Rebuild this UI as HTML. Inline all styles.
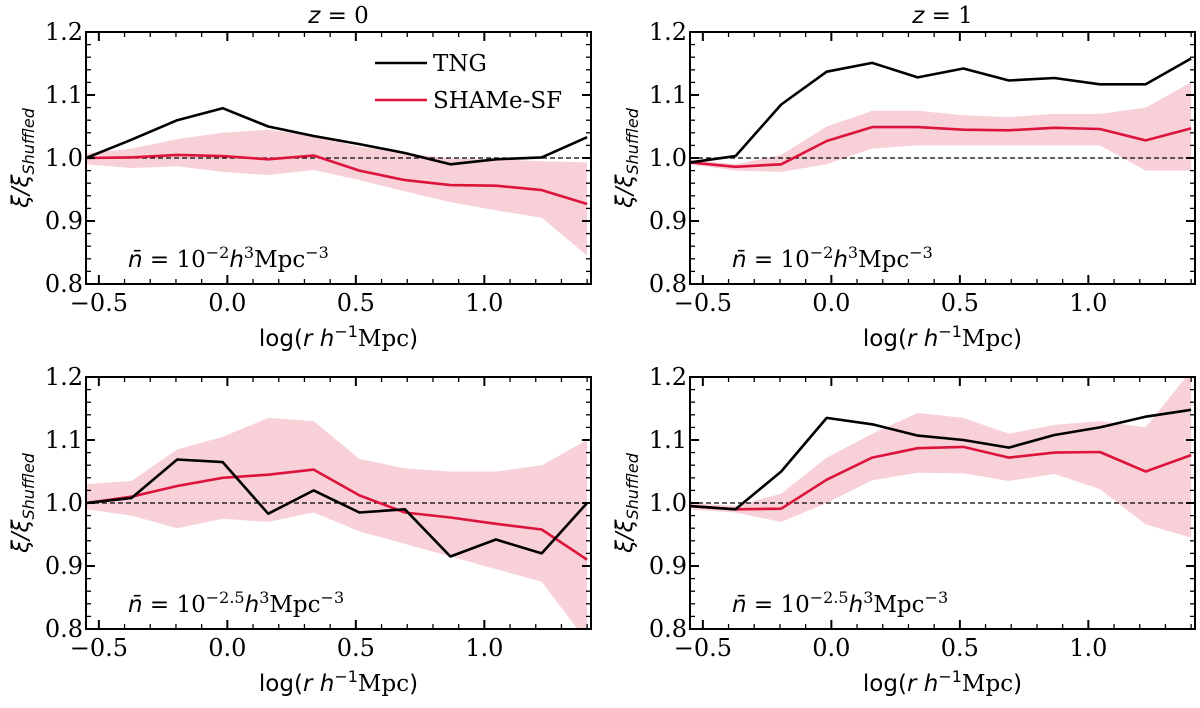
<!DOCTYPE html>
<html><head><meta charset="utf-8"><style>
body{margin:0;background:#fff}
svg text{font-family:"DejaVu Serif","Liberation Serif",serif}
</style></head><body>
<svg id="fig" width="1200" height="703" viewBox="0 0 1200 703" xmlns="http://www.w3.org/2000/svg"></svg>
<script>
const xs = [-0.55,-0.373,-0.195,-0.018,0.159,0.336,0.514,0.691,0.868,1.045,1.223,1.40];
const tlTng = [1.0,1.029,1.06,1.079,1.05,1.035,1.022,1.008,0.99,0.998,1.001,1.033];
const tlSham = [1.0,1.001,1.005,1.003,0.998,1.004,0.98,0.965,0.957,0.956,0.949,0.927];
const tlUp = [1.007,1.015,1.03,1.04,1.045,1.035,1.018,1.008,0.999,0.998,0.995,0.993];
const tlLo = [0.99,0.984,0.987,0.978,0.973,0.981,0.965,0.947,0.93,0.917,0.905,0.845];
const trTng = [0.993,1.003,1.085,1.137,1.151,1.128,1.142,1.123,1.127,1.117,1.117,1.158];
const trSham = [0.993,0.986,0.99,1.027,1.049,1.049,1.045,1.044,1.048,1.046,1.028,1.047];
const trUp = [0.997,0.99,1.005,1.05,1.075,1.075,1.068,1.065,1.07,1.07,1.08,1.12];
const trLo = [0.99,0.98,0.978,0.99,1.015,1.02,1.02,1.02,1.02,1.02,0.98,0.98];
const blTng = [1.0,1.008,1.069,1.065,0.983,1.02,0.985,0.99,0.915,0.942,0.92,1.0];
const blSham = [1.0,1.01,1.027,1.04,1.045,1.053,1.012,0.985,0.977,0.967,0.958,0.91];
const blUp = [1.03,1.035,1.085,1.105,1.135,1.13,1.07,1.055,1.05,1.05,1.06,1.1];
const blLo = [0.99,0.98,0.96,0.975,0.97,0.985,0.955,0.935,0.915,0.895,0.875,0.78];
const brTng = [0.995,0.99,1.05,1.135,1.125,1.107,1.1,1.088,1.108,1.12,1.137,1.148];
const brSham = [0.995,0.99,0.991,1.037,1.072,1.087,1.089,1.072,1.08,1.081,1.05,1.076];
const brUp = [1.0,0.995,1.015,1.072,1.11,1.143,1.135,1.11,1.124,1.13,1.12,1.21];
const brLo = [0.99,0.985,0.97,1.0,1.036,1.048,1.047,1.035,1.046,1.022,0.966,0.945];
const xTicks = [-0.5,0.0,0.5,1.0];
const xTickLabels = ["\u22120.5","0.0","0.5","1.0"];
const yTicks = [0.8,0.9,1.0,1.1,1.2];
const yTickLabels = ["0.8","0.9","1.0","1.1","1.2"];

const NS="http://www.w3.org/2000/svg";
const svg=document.getElementById('fig');
function mk(tag,attrs,parent){const e=document.createElementNS(NS,tag);for(const k in attrs)e.setAttribute(k,attrs[k]);(parent||svg).appendChild(e);return e;}
const XMIN=-0.55,XMAX=1.415,YMIN=0.8,YMAX=1.2;

const panels=[
 {id:'top-left',x0:86,y0:32,tng:tlTng,sham:tlSham,up:tlUp,lo:tlLo,title:'z = 0',exp:'\u22122',legend:true},
 {id:'top-right',x0:690,y0:32,tng:trTng,sham:trSham,up:trUp,lo:trLo,title:'z = 1',exp:'\u22122'},
 {id:'bottom-left',x0:86,y0:377,tng:blTng,sham:blSham,up:blUp,lo:blLo,exp:'\u22122.5'},
 {id:'bottom-right',x0:690,y0:377,tng:brTng,sham:brSham,up:brUp,lo:brLo,exp:'\u22122.5'}
];
const W=505,H=252;
panels.forEach(p=>{
 const g=mk('g',{});
 
 
 const sx=v=>p.x0+(v-XMIN)/(XMAX-XMIN)*W;
 const sy=v=>p.y0+(YMAX-v)/(YMAX-YMIN)*H;
 const cid='clip-'+p.id;
 const cp=mk('clipPath',{id:cid},g);mk('rect',{x:p.x0,y:p.y0,width:W,height:H},cp);
 const pg=mk('g',{'clip-path':'url(#'+cid+')'},g);
 let d='';xs.forEach((x,i)=>{d+=(i?'L':'M')+sx(x).toFixed(1)+','+sy(p.up[i]).toFixed(1);});
 for(let i=xs.length-1;i>=0;i--)d+='L'+sx(xs[i]).toFixed(1)+','+sy(p.lo[i]).toFixed(1);
 const band=mk('path',{d:d+'Z',fill:'#dc143c','fill-opacity':0.2,stroke:'none'},pg);
 
 
 const ref=mk('line',{x1:p.x0,x2:p.x0+W,y1:sy(1.0),y2:sy(1.0),stroke:'#000','stroke-width':1.3,'stroke-dasharray':'5,3'},pg);
 
 
 const line=(arr,col,name)=>{const pts=xs.map((x,i)=>sx(x).toFixed(1)+','+sy(arr[i]).toFixed(1)).join(' ');
  const l=mk('polyline',{points:pts,fill:'none',stroke:col,'stroke-width':2.6,'stroke-linejoin':'round'},pg);
  
  };
 line(p.sham,'#dc143c','shame-sf-line');
 line(p.tng,'#000','tng-line');
 mk('rect',{x:p.x0,y:p.y0,width:W,height:H,fill:'none',stroke:'#000','stroke-width':2},g);
 // ticks
 for(let k=-5;k<=14;k++){const v=k/10;if(v<XMIN||v>XMAX)continue;const X=sx(v);const maj=(k%5===0);const L=maj?9:5;
  mk('line',{x1:X,x2:X,y1:p.y0+H,y2:p.y0+H-L,stroke:'#000','stroke-width':maj?2:1.3},g);
  mk('line',{x1:X,x2:X,y1:p.y0,y2:p.y0+L,stroke:'#000','stroke-width':maj?2:1.3},g);}
 for(let k=40;k<=60;k++){const v=k/50;const Y=sy(v);const maj=(k%5===0);const L=maj?9:5;
  mk('line',{x1:p.x0,x2:p.x0+L,y1:Y,y2:Y,stroke:'#000','stroke-width':maj?2:1.3},g);
  mk('line',{x1:p.x0+W,x2:p.x0+W-L,y1:Y,y2:Y,stroke:'#000','stroke-width':maj?2:1.3},g);}
 xTicks.forEach((v,i)=>{const t=mk('text',{x:sx(v),y:p.y0+H+27,'font-size':24,'text-anchor':'middle'},g);t.textContent=xTickLabels[i];
  
  });
 yTicks.forEach((v,i)=>{const t=mk('text',{x:p.x0-3,y:sy(v)+8,'font-size':24,'text-anchor':'end'},g);t.textContent=yTickLabels[i];
  
  });
 const xl=mk('text',{x:p.x0+W/2,y:p.y0+H+62,'font-size':23,'text-anchor':'middle'},g);
 xl.innerHTML='<tspan font-family="DejaVu Sans">log(</tspan><tspan font-family="DejaVu Sans" font-style="italic">r h</tspan><tspan font-family="DejaVu Sans" font-size="16" dy="-9">\u22121</tspan><tspan dy="9">Mpc</tspan><tspan font-family="DejaVu Sans">)</tspan>';
 
 
 const yl=mk('text',{transform:'translate('+(p.x0-58)+','+(p.y0+H/2)+') rotate(-90)','font-size':23,'text-anchor':'middle','font-family':'DejaVu Sans','font-style':'italic'},g);
 yl.innerHTML='<tspan font-family="DejaVu Sans">\u03be/\u03be</tspan><tspan font-family="DejaVu Sans" font-size="16" dy="6">Shuffled</tspan>';
 
 
 const an=mk('text',{x:p.x0+42,y:p.y0+H-17,'font-size':23},g);
 an.innerHTML='<tspan font-family="DejaVu Sans" font-style="italic">n\u0304</tspan> = 10<tspan font-size="16" dy="-9">'+p.exp+'</tspan><tspan dy="9" font-family="DejaVu Sans" font-style="italic">h</tspan><tspan font-size="16" dy="-9">3</tspan><tspan dy="9">Mpc</tspan><tspan font-size="16" dy="-9">\u22123</tspan>';
 
 
 if(p.title){const t=mk('text',{x:p.x0+W/2,y:p.y0-9,'font-size':23,'text-anchor':'middle'},g);
  t.innerHTML='<tspan font-family="DejaVu Sans" font-style="italic">z</tspan> = '+p.title.slice(-1);
  
  }
 if(p.legend){
  const lg=mk('g',{},g);
  
  
  mk('line',{x1:375,x2:427,y1:63,y2:63,stroke:'#000','stroke-width':2.6},lg);
  const t1=mk('text',{x:433,y:71,'font-size':23},lg);t1.textContent='TNG';
  
  
  mk('line',{x1:375,x2:427,y1:100,y2:100,stroke:'#dc143c','stroke-width':2.6},lg);
  const t2=mk('text',{x:433,y:108,'font-size':23},lg);t2.textContent='SHAMe-SF';
  
  
 }
});
</script>
</body></html>
